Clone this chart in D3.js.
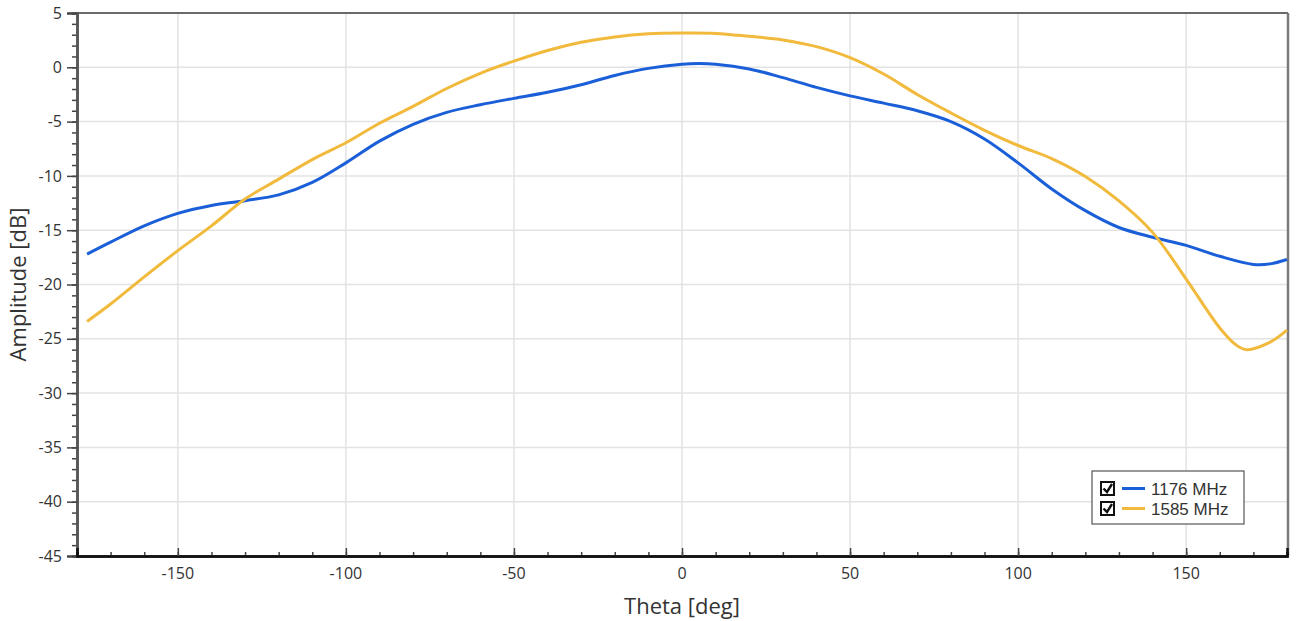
<!DOCTYPE html>
<html><head><meta charset="utf-8">
<script src="https://cdn.jsdelivr.net/npm/d3@7"></script>
<style>body{margin:0;background:#fff}svg{display:block}</style>
</head><body>
<svg id="c" width="1296" height="621"></svg>
<script>
const theta1176 = [-177,-170,-160,-150,-140,-130,-120,-110,-100,-90,-80,-70,-60,-50,-40,-30,-20,-10,0,5,10,20,30,40,50,60,70,80,90,100,110,120,130,140,150,160,170,175,180];
const amp1176 =   [-17.2,-16.1,-14.6,-13.45,-12.72,-12.28,-11.75,-10.6,-8.8,-6.8,-5.25,-4.15,-3.45,-2.86,-2.3,-1.6,-0.75,-0.1,0.28,0.34,0.28,-0.15,-0.95,-1.85,-2.63,-3.3,-4.0,-5.0,-6.6,-8.8,-11.2,-13.2,-14.75,-15.65,-16.4,-17.4,-18.15,-18.1,-17.7];
const theta1585 = [-177,-170,-160,-150,-140,-130,-120,-110,-100,-90,-80,-70,-60,-50,-40,-30,-20,-10,0,10,20,30,40,50,60,70,80,90,100,110,120,130,140,150,160,165,168,175,180];
const amp1585 =   [-23.4,-21.8,-19.3,-16.88,-14.6,-12.13,-10.3,-8.5,-6.95,-5.15,-3.6,-1.95,-0.55,0.57,1.55,2.3,2.8,3.08,3.15,3.12,2.85,2.52,1.9,0.89,-0.62,-2.5,-4.2,-5.8,-7.2,-8.4,-10.05,-12.3,-15.2,-19.5,-24.0,-25.6,-26.0,-25.3,-24.2];
const xTicks = [-150,-100,-50,0,50,100,150];
const yTicks = [5,0,-5,-10,-15,-20,-25,-30,-35,-40,-45];
const seriesNames = ["1176 MHz","1585 MHz"];
const seriesColors = ["#1a5fd8","#f1ba3c"];

const svg = d3.select("#c");
const L=77, R=1287, T=13, B=556;
const x = d3.scaleLinear().domain([-180,180]).range([L,R]);
const y = d3.scaleLinear().domain([-45,5]).range([B,T]);
const font = "'Open Sans','Noto Sans',sans-serif";
const fmt = d => String(d);

// grid
svg.append("g").selectAll("line").data(xTicks).join("line")
  .attr("x1",d=>x(d)).attr("x2",d=>x(d)).attr("y1",T).attr("y2",B)
  .attr("stroke","#e3e3e3").attr("stroke-width",1.5);
svg.append("g").selectAll("line").data(yTicks.filter(v=>v!==5&&v!==-45)).join("line")
  .attr("x1",L).attr("x2",R).attr("y1",d=>y(d)).attr("y2",d=>y(d))
  .attr("stroke","#e3e3e3").attr("stroke-width",1.5);

// frame top/right
svg.append("line").attr("x1",L).attr("x2",R+1).attr("y1",T).attr("y2",T).attr("stroke","#6a6a6a").attr("stroke-width",2);
svg.append("line").attr("x1",R+1).attr("x2",R+1).attr("y1",T).attr("y2",B).attr("stroke","#7a7a7a").attr("stroke-width",2.5);

// curves
const line = d3.line().curve(d3.curveCatmullRom.alpha(0.5));
const series = [[theta1176,amp1176],[theta1585,amp1585]];
series.forEach(([t,a],i)=>{
  svg.append("path").attr("fill","none").attr("stroke",seriesColors[i]).attr("stroke-width",3)
    .attr("d", line(t.map((th,j)=>[x(th),y(a[j])])));
});

// y axis
const yMinor = d3.range(-45,5.01,1);
const yAxis = svg.append("g").attr("transform",`translate(${L},0)`)
  .call(d3.axisLeft(y).tickValues(yMinor).tickSize(5).tickFormat(""));
yAxis.selectAll(".tick line").attr("stroke","#444").attr("stroke-width",1.5);
const yMaj = svg.append("g").attr("transform",`translate(${L},0)`)
  .call(d3.axisLeft(y).tickValues(yTicks).tickSize(10).tickPadding(5).tickFormat(fmt));
yMaj.selectAll(".tick line").attr("stroke","#444").attr("stroke-width",1.5);
yMaj.selectAll("text").attr("font-family",font).attr("font-size",16).attr("fill","#333");
[yAxis,yMaj].forEach(g=>g.select(".domain").attr("stroke","#555").attr("stroke-width",2.5));

// x axis (ticks inward)
const xMinor = d3.range(-170,180,10);
const xAxis = svg.append("g").attr("transform",`translate(0,${B})`)
  .call(d3.axisTop(x).tickValues(xMinor).tickSize(4).tickFormat(""));
xAxis.selectAll(".tick line").attr("stroke","#444").attr("stroke-width",1.5);
const xMaj = svg.append("g").attr("transform",`translate(0,${B})`)
  .call(d3.axisTop(x).tickValues(xTicks).tickSize(8).tickFormat(""));
xMaj.selectAll(".tick line").attr("stroke","#444").attr("stroke-width",1.5);
[xAxis,xMaj].forEach(g=>g.select(".domain").attr("stroke","#111").attr("stroke-width",2.5));
svg.append("g").selectAll("text").data(xTicks).join("text")
  .attr("x",d=>x(d)).attr("y",B+23).attr("text-anchor","middle")
  .attr("font-family",font).attr("font-size",16).attr("fill","#333")
  .text(fmt);

// titles
svg.append("text").attr("x",(L+R)/2).attr("y",614).attr("text-anchor","middle")
  .attr("font-family",font).attr("font-size",22).attr("fill","#333").text("Theta [deg]");
svg.append("text").attr("transform",`translate(26,${(T+B)/2}) rotate(-90)`).attr("text-anchor","middle")
  .attr("font-family",font).attr("font-size",22).attr("fill","#333").text("Amplitude [dB]");

// legend
const lg = svg.append("g").attr("transform","translate(1092,471)");
lg.append("rect").attr("width",152).attr("height",53).attr("fill","#fff").attr("stroke","#555").attr("stroke-width",1.2);
seriesNames.forEach((n,i)=>{
  const cy = 17 + i*20;
  const g = lg.append("g").attr("transform",`translate(0,${cy})`);
  g.append("rect").attr("x",9).attr("y",-6).attr("width",13).attr("height",13).attr("fill","#fff").attr("stroke","#111").attr("stroke-width",2);
  g.append("path").attr("d","M11.5,0.5 L15,4 L20,-4").attr("fill","none").attr("stroke","#111").attr("stroke-width",2.4);
  g.append("line").attr("x1",30).attr("x2",53).attr("y1",0.5).attr("y2",0.5).attr("stroke",seriesColors[i]).attr("stroke-width",3);
  g.append("text").attr("x",59).attr("y",6.5).attr("font-family","'Liberation Sans',Arial,sans-serif").attr("font-size",17).attr("fill","#333").text(n);
});
</script>
</body></html>
